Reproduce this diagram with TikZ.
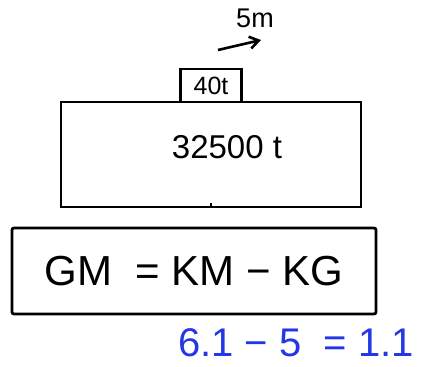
\documentclass[tikz,border=0pt]{standalone}
\usepackage{fontspec}
\setmainfont{Liberation Sans}
\usepackage{xcolor}
\usetikzlibrary{positioning,arrows.meta}

\definecolor{penblue}{RGB}{35,55,230}

\begin{document}
\begin{tikzpicture}[
    x=1pt, y=-1pt,
    hull/.style={rectangle, draw, line width=2.6pt, minimum width=300pt, minimum height=105pt},
    load/.style={rectangle, draw, line width=2.4pt, outer sep=0pt, minimum width=61pt, minimum height=33pt, inner sep=0pt},
    formula/.style={rectangle, draw, line width=2.8pt, rounded corners=2pt, minimum width=364pt, minimum height=86pt, inner sep=0pt},
    pushed/.style={-{Straight Barb[length=9pt,width=12pt,line width=2.6pt]}, line width=2.6pt},
    hand/.style={font=\fontsize{#1}{#1}\selectfont}
]
    \useasboundingbox (0,0) rectangle (421,367);

    \node[hull] (ship) at (211,154.5) {};
    \node[load, above=-1.3pt of ship, hand=25] (block) {40t};
    \node[hand=33] (mass) at (227,147) {32500 t};
    \draw[line width=1.8pt] (ship.south) -- ++(0,-5);

    \coordinate (push start) at (218,50);
    \coordinate (push end) at (261,40);
    \draw[pushed] (push start) -- (push end);
    \node[hand=27] (dist) at (255,18) {5m};

    \node[formula, hand=42] (eq) at (194,271) {GM\; = KM − KG};

    \node[hand=40, text=penblue] (calc) at (296,343) {6.1 − 5 \;= 1.1};
\end{tikzpicture}
\end{document}
